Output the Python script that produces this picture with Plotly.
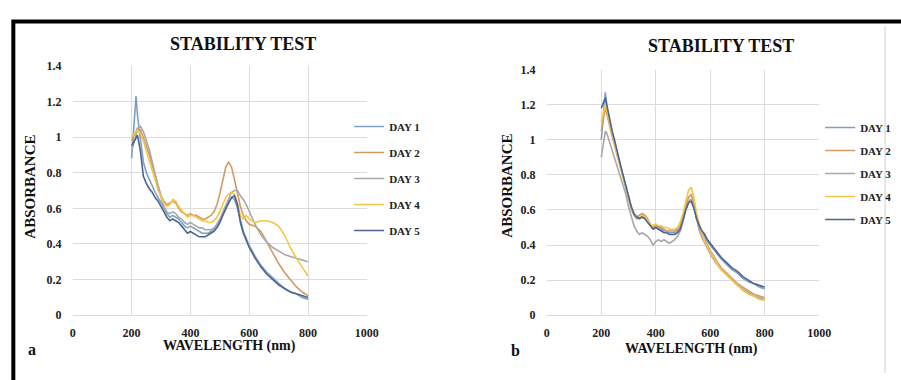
import plotly.graph_objects as go

W, H = 901, 380

wavelength = [200, 210, 215, 220, 230, 240, 250, 260, 270, 280, 290, 300, 310, 320, 330, 340, 350, 360, 370, 380,
              390, 400, 410, 420, 430, 440, 450, 460, 470, 480, 490, 500, 510, 520, 530, 540, 550, 560, 570, 580,
              590, 600, 620, 640, 660, 680, 700, 720, 740, 760, 780, 800]

series_names = ["DAY 1", "DAY 2", "DAY 3", "DAY 4", "DAY 5"]
series_colors = ["#7f9fc4", "#d29a66", "#a8a8a8", "#f3c744", "#4a6592"]

# Panel a
a_day1 = [0.88, 1.10, 1.23, 1.12, 0.98, 0.86, 0.80, 0.76, 0.72, 0.69, 0.66, 0.63, 0.60, 0.57, 0.55, 0.56, 0.55, 0.54, 0.52, 0.50,
          0.49, 0.50, 0.49, 0.48, 0.47, 0.46, 0.46, 0.46, 0.47, 0.48, 0.50, 0.53, 0.57, 0.61, 0.64, 0.66, 0.65, 0.60, 0.53, 0.47,
          0.43, 0.39, 0.33, 0.28, 0.24, 0.21, 0.18, 0.15, 0.13, 0.12, 0.10, 0.09]
a_day2 = [0.98, 1.02, 1.04, 1.05, 1.04, 1.00, 0.95, 0.90, 0.84, 0.78, 0.72, 0.67, 0.64, 0.62, 0.63, 0.64, 0.63, 0.60, 0.58, 0.57,
          0.56, 0.57, 0.56, 0.56, 0.55, 0.54, 0.54, 0.55, 0.56, 0.58, 0.62, 0.68, 0.76, 0.83, 0.86, 0.83, 0.76, 0.68, 0.61, 0.56,
          0.53, 0.51, 0.50, 0.47, 0.41, 0.35, 0.29, 0.24, 0.20, 0.16, 0.13, 0.11]
a_day3 = [0.92, 0.98, 1.02, 1.04, 1.06, 1.03, 0.98, 0.93, 0.86, 0.79, 0.72, 0.66, 0.61, 0.58, 0.57, 0.58, 0.57, 0.55, 0.54, 0.52,
          0.51, 0.52, 0.51, 0.50, 0.49, 0.49, 0.48, 0.48, 0.48, 0.49, 0.51, 0.54, 0.58, 0.62, 0.66, 0.69, 0.70, 0.70, 0.67, 0.65,
          0.62, 0.58, 0.51, 0.45, 0.41, 0.38, 0.36, 0.34, 0.33, 0.32, 0.31, 0.30]
a_day4 = [1.00, 1.02, 1.03, 1.04, 1.02, 0.98, 0.92, 0.87, 0.82, 0.76, 0.70, 0.66, 0.63, 0.61, 0.62, 0.65, 0.64, 0.61, 0.59, 0.57,
          0.55, 0.56, 0.56, 0.55, 0.54, 0.53, 0.53, 0.52, 0.52, 0.53, 0.55, 0.58, 0.62, 0.66, 0.68, 0.69, 0.68, 0.63, 0.56, 0.54,
          0.56, 0.54, 0.52, 0.53, 0.53, 0.52, 0.50, 0.45, 0.38, 0.32, 0.27, 0.22]
a_day5 = [0.95, 0.98, 1.00, 1.01, 0.92, 0.78, 0.74, 0.71, 0.69, 0.66, 0.64, 0.61, 0.58, 0.55, 0.53, 0.54, 0.53, 0.52, 0.50, 0.48,
          0.46, 0.47, 0.46, 0.45, 0.44, 0.44, 0.44, 0.45, 0.46, 0.47, 0.49, 0.52, 0.56, 0.60, 0.63, 0.66, 0.67, 0.62, 0.52, 0.46,
          0.42, 0.38, 0.32, 0.27, 0.23, 0.20, 0.17, 0.15, 0.13, 0.12, 0.11, 0.10]

# Panel b
b_day1 = [1.00, 1.20, 1.27, 1.20, 1.10, 1.04, 0.98, 0.91, 0.85, 0.79, 0.73, 0.67, 0.61, 0.57, 0.55, 0.56, 0.57, 0.56, 0.54, 0.52,
          0.50, 0.51, 0.50, 0.49, 0.48, 0.48, 0.47, 0.47, 0.47, 0.48, 0.50, 0.55, 0.61, 0.65, 0.66, 0.62, 0.55, 0.50, 0.47, 0.45,
          0.42, 0.40, 0.36, 0.32, 0.29, 0.26, 0.24, 0.21, 0.19, 0.18, 0.16, 0.15]
b_day2 = [1.05, 1.15, 1.18, 1.15, 1.08, 1.02, 0.96, 0.90, 0.84, 0.78, 0.72, 0.66, 0.61, 0.57, 0.56, 0.57, 0.58, 0.57, 0.55, 0.52,
          0.50, 0.51, 0.51, 0.50, 0.49, 0.48, 0.48, 0.48, 0.48, 0.49, 0.51, 0.56, 0.62, 0.67, 0.69, 0.64, 0.56, 0.50, 0.46, 0.43,
          0.40, 0.37, 0.32, 0.27, 0.24, 0.21, 0.18, 0.16, 0.14, 0.12, 0.11, 0.10]
b_day3 = [0.90, 1.00, 1.05, 1.04, 0.99, 0.95, 0.90, 0.85, 0.80, 0.75, 0.69, 0.62, 0.56, 0.51, 0.48, 0.46, 0.47, 0.46, 0.45, 0.43,
          0.40, 0.42, 0.43, 0.42, 0.43, 0.42, 0.41, 0.42, 0.43, 0.45, 0.48, 0.54, 0.60, 0.64, 0.66, 0.62, 0.54, 0.48, 0.44, 0.41,
          0.38, 0.35, 0.30, 0.26, 0.23, 0.20, 0.17, 0.15, 0.13, 0.11, 0.10, 0.09]
b_day4 = [1.10, 1.16, 1.20, 1.17, 1.10, 1.03, 0.97, 0.91, 0.85, 0.79, 0.73, 0.67, 0.62, 0.58, 0.56, 0.56, 0.57, 0.56, 0.54, 0.52,
          0.51, 0.52, 0.51, 0.51, 0.50, 0.50, 0.49, 0.49, 0.49, 0.50, 0.53, 0.58, 0.65, 0.71, 0.73, 0.67, 0.58, 0.51, 0.46, 0.42,
          0.39, 0.36, 0.31, 0.26, 0.23, 0.20, 0.17, 0.14, 0.12, 0.11, 0.09, 0.085]
b_day5 = [1.18, 1.22, 1.24, 1.20, 1.12, 1.05, 0.99, 0.92, 0.86, 0.80, 0.74, 0.68, 0.62, 0.58, 0.56, 0.55, 0.56, 0.55, 0.53, 0.51,
          0.49, 0.50, 0.49, 0.48, 0.47, 0.47, 0.46, 0.46, 0.46, 0.47, 0.49, 0.54, 0.60, 0.64, 0.65, 0.61, 0.55, 0.51, 0.48, 0.46,
          0.43, 0.41, 0.37, 0.33, 0.30, 0.27, 0.25, 0.22, 0.20, 0.18, 0.17, 0.16]

panel_a = [a_day1, a_day2, a_day3, a_day4, a_day5]
panel_b = [b_day1, b_day2, b_day3, b_day4, b_day5]

chart_title = "STABILITY TEST"
x_title = "WAVELENGTH (nm)"
y_title = "ABSORBANCE"
x_ticks = [0, 200, 400, 600, 800, 1000]
y_ticks = [0, 0.2, 0.4, 0.6, 0.8, 1, 1.2, 1.4]
y_tick_text = ["0", "0.2", "0.4", "0.6", "0.8", "1", "1.2", "1.4"]

FONT = "Liberation Serif"


def px(x):
    return x / W


def py(y):
    return 1 - y / H


fig = go.Figure()
for i, name in enumerate(series_names):
    fig.add_trace(go.Scatter(x=wavelength, y=panel_a[i], mode="lines", name=name,
                             line=dict(color=series_colors[i], width=1.6),
                             xaxis="x", yaxis="y", legend="legend", legendgroup="a%d" % i))
for i, name in enumerate(series_names):
    fig.add_trace(go.Scatter(x=wavelength, y=panel_b[i], mode="lines", name=name,
                             line=dict(color=series_colors[i], width=1.6),
                             xaxis="x2", yaxis="y2", legend="legend2", legendgroup="b%d" % i))

tickfont = dict(family=FONT, size=12, color="#222", weight="bold")
grid = "#dcdcdc"


def xax(domain, anchor):
    return dict(domain=domain, anchor=anchor, range=[0, 1000], tickvals=x_ticks,
                showgrid=True, gridcolor=grid, gridwidth=1, zeroline=False,
                showline=True, linecolor=grid, linewidth=1,
                ticks="outside", ticklen=6, tickcolor="rgba(0,0,0,0)",
                tickfont=tickfont, fixedrange=True)


def yax(domain, anchor):
    return dict(domain=domain, anchor=anchor, range=[0, 1.4], tickvals=y_ticks, ticktext=y_tick_text,
                showgrid=True, gridcolor=grid, gridwidth=1, zeroline=False,
                showline=False,
                ticks="outside", ticklen=8, tickcolor="rgba(0,0,0,0)",
                tickfont=tickfont, fixedrange=True)


legend_font = dict(family=FONT, size=11, color="#222", weight="bold")

fig.update_layout(
    width=W, height=H, margin=dict(l=0, r=0, t=0, b=0),
    paper_bgcolor="white", plot_bgcolor="white",
    xaxis=xax([px(71), px(370)], "y"),
    yaxis=yax([py(320), py(61)], "x"),
    xaxis2=xax([px(553), px(830)], "y2"),
    yaxis2=yax([py(320), py(65)], "x2"),
    legend=dict(x=px(352), y=py(109), xanchor="left", yanchor="top", font=legend_font,
                tracegroupgap=7, bgcolor="rgba(0,0,0,0)", itemwidth=30),
    legend2=dict(x=px(831), y=py(110), xanchor="left", yanchor="top", font=legend_font,
                 tracegroupgap=4, bgcolor="rgba(0,0,0,0)", itemwidth=30),
    showlegend=True,
)

title_font = dict(family=FONT, size=18, color="#111", weight="bold")
axis_font = dict(family=FONT, size=14, color="#111", weight="bold")
annotations = [
    dict(text=chart_title, x=px(244), y=py(38), font=title_font),
    dict(text=chart_title, x=px(730), y=py(40), font=title_font),
    dict(text=y_title, x=px(28), y=py(187), textangle=-90, font=dict(family=FONT, size=15, color="#111", weight="bold")),
    dict(text=y_title, x=px(513), y=py(185), textangle=-90, font=dict(family=FONT, size=15, color="#111", weight="bold")),
    dict(text=x_title, x=px(230), y=py(352), font=axis_font),
    dict(text=x_title, x=px(700), y=py(355), font=axis_font),
    dict(text="a", x=px(29), y=py(356), font=dict(family=FONT, size=16, color="#111", weight="bold")),
    dict(text="b", x=px(521), y=py(357), font=dict(family=FONT, size=16, color="#111", weight="bold")),
]
for a in annotations:
    a.update(xref="paper", yref="paper", showarrow=False, xanchor="center", yanchor="middle")
fig.update_layout(annotations=annotations)

fig.update_layout(shapes=[
    dict(type="rect", xref="paper", yref="paper", x0=px(10.5), y0=py(15), x1=1.1, y1=-0.1,
         line=dict(color="black", width=4), fillcolor="rgba(0,0,0,0)"),
    dict(type="line", xref="paper", yref="paper", x0=px(897), y0=py(20), x1=px(897), y1=0,
         line=dict(color="#cfcfcf", width=1)),
])

fig.write_html("out.html")
